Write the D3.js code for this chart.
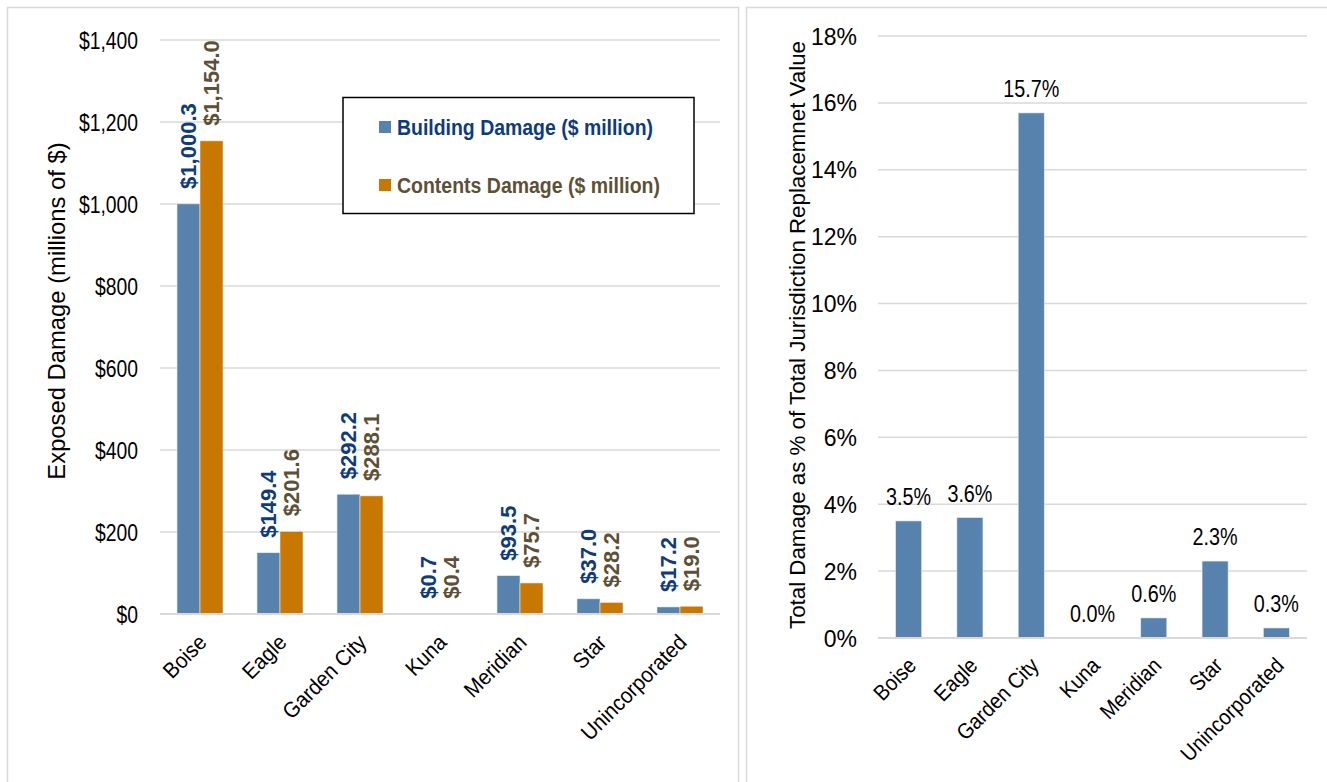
<!DOCTYPE html>
<html>
<head>
<meta charset="utf-8">
<script src="https://cdn.jsdelivr.net/npm/d3@7"></script>
<style>
  html, body { margin: 0; padding: 0; background: #fff; }
  svg { display: block; }
  text { font-family: "Liberation Sans", Arial, sans-serif; }
</style>
</head>
<body>
<svg id="chart" width="1327" height="782"></svg>
<script>
// Jurisdictions shared by both panels
const jurisdictions = ["Boise", "Eagle", "Garden City", "Kuna", "Meridian", "Star", "Unincorporated"];

// Left panel: exposed damage, $ million
const buildingDamage = [1000.3, 149.4, 292.2, 0.7, 93.5, 37.0, 17.2];
const contentsDamage = [1154.0, 201.6, 288.1, 0.4, 75.7, 28.2, 19.0];
const damageTicks = [0, 200, 400, 600, 800, 1000, 1200, 1400];

// Right panel: total damage as % of replacement value
const pctOfValue = [3.5, 3.6, 15.7, 0.0, 0.6, 2.3, 0.3];
const pctTicks = [0, 2, 4, 6, 8, 10, 12, 14, 16, 18];

const seriesNames = ["Building Damage ($ million)", "Contents Damage ($ million)"];

const BLUE = "#5682ad", ORANGE = "#c87800";
const BLUE_TEXT = "#0e3b7c", BROWN_TEXT = "#5e5035";
const GRID = "#d9d9d9";

// Narrow lettering: squeeze each text along its baseline
function condense(sel, k) {
  sel.each(function () {
    const len = this.getComputedTextLength();
    d3.select(this).attr("textLength", len * k).attr("lengthAdjust", "spacingAndGlyphs");
  });
}
function fitLength(sel, len) {
  sel.attr("textLength", len).attr("lengthAdjust", "spacingAndGlyphs");
}

const svg = d3.select("#chart");

// Panel frames
svg.append("rect").attr("x", 7.5).attr("y", 7.5).attr("width", 731).attr("height", 800)
  .attr("fill", "none").attr("stroke", GRID).attr("stroke-width", 1.5);
svg.append("rect").attr("x", 746.5).attr("y", 7.5).attr("width", 620).attr("height", 800)
  .attr("fill", "none").attr("stroke", GRID).attr("stroke-width", 1.5);

// ---------- Left panel ----------
{
  const x0 = d3.scaleBand().domain(jurisdictions).range([160, 720]).paddingInner(0.425).paddingOuter(0.2125);
  const y = d3.scaleLinear().domain([0, 1400]).range([614, 40]);
  const bw = x0.bandwidth() / 2;

  const g = svg.append("g");

  // gridlines
  g.append("g").selectAll("line").data(damageTicks).join("line")
    .attr("x1", 160).attr("x2", 720)
    .attr("y1", d => y(d)).attr("y2", d => y(d))
    .attr("stroke", GRID).attr("stroke-width", 1.5);

  // y axis labels
  const yAxis = d3.axisLeft(y).tickValues(damageTicks).tickSize(0).tickPadding(0)
    .tickFormat(d => "$" + d3.format(",")(d));
  const ya = g.append("g").attr("transform", "translate(138,0)").call(yAxis);
  ya.select(".domain").remove();
  ya.selectAll("text").attr("font-size", 23).attr("fill", "#000")
    .style("font-family", null).attr("dy", "0.35em").call(condense, 0.84);

  const series = [
    {values: buildingDamage, color: BLUE, text: BLUE_TEXT, off: 0},
    {values: contentsDamage, color: ORANGE, text: BROWN_TEXT, off: 1}
  ];

  series.forEach(s => {
    g.append("g").selectAll("rect").data(jurisdictions).join("rect")
      .attr("x", (d) => x0(d) + s.off * bw)
      .attr("y", (d, i) => y(s.values[i]))
      .attr("width", bw)
      .attr("height", (d, i) => y(0) - y(s.values[i]))
      .attr("fill", s.color)
      .attr("stroke", "#eaeaea").attr("stroke-width", 0.6);

    g.append("g").selectAll("text").data(jurisdictions).join("text")
      .attr("transform", (d, i) => {
        const cx = x0(d) + s.off * bw + bw / 2;
        const cy = y(s.values[i]) - 15;
        return `translate(${cx},${cy}) rotate(-90)`;
      })
      .attr("dy", "0.36em")
      .attr("text-anchor", "start")
      .attr("font-size", 22).attr("font-weight", "bold")
      .attr("fill", s.text)
      .text((d, i) => "$" + d3.format(",.1f")(s.values[i]));
  });

  // baseline
  g.append("line").attr("x1", 160).attr("x2", 720).attr("y1", y(0)).attr("y2", y(0))
    .attr("stroke", GRID).attr("stroke-width", 2);

  // x axis labels
  const xAxis = d3.axisBottom(x0).tickSize(0).tickPadding(0);
  const xa = g.append("g").attr("transform", `translate(0,${y(0)})`).call(xAxis);
  xa.select(".domain").remove();
  xa.selectAll("text")
    .style("font-family", null)
    .attr("font-size", 22).attr("fill", "#000")
    .attr("text-anchor", "end")
    .attr("transform", "translate(-3,19) rotate(-45)")
    .attr("dy", "0.7em").attr("y", 0)
    .call(condense, 0.92);

  // y axis title
  g.append("text")
    .attr("transform", "translate(57,311) rotate(-90)")
    .attr("text-anchor", "middle").attr("dy", "0.35em")
    .attr("font-size", 23.8).attr("fill", "#000")
    .text("Exposed Damage (millions of $)");

  // legend
  const lg = g.append("g");
  lg.append("rect").attr("x", 343).attr("y", 97.5).attr("width", 351).attr("height", 116)
    .attr("fill", "#fff").attr("stroke", "#000").attr("stroke-width", 1.5);
  const legendItems = [
    {name: seriesNames[0], color: BLUE, text: BLUE_TEXT, cy: 127, len: 256},
    {name: seriesNames[1], color: ORANGE, text: BROWN_TEXT, cy: 185, len: 263}
  ];
  legendItems.forEach(it => {
    lg.append("rect").attr("x", 379).attr("y", it.cy - 6).attr("width", 12).attr("height", 12).attr("fill", it.color);
    lg.append("text").attr("x", 397).attr("y", it.cy).attr("dy", "0.36em")
      .attr("font-size", 22).attr("font-weight", "bold").attr("fill", it.text).text(it.name)
      .call(fitLength, it.len);
  });
}

// ---------- Right panel ----------
{
  const x = d3.scaleBand().domain(jurisdictions).range([878, 1307]).paddingInner(0.575).paddingOuter(0.2875);
  const y = d3.scaleLinear().domain([0, 18]).range([638, 36]);

  const g = svg.append("g");

  g.append("g").selectAll("line").data(pctTicks).join("line")
    .attr("x1", 878).attr("x2", 1307)
    .attr("y1", d => y(d)).attr("y2", d => y(d))
    .attr("stroke", GRID).attr("stroke-width", 1.5);

  const yAxis = d3.axisLeft(y).tickValues(pctTicks).tickSize(0).tickPadding(0)
    .tickFormat(d => d + "%");
  const ya = g.append("g").attr("transform", "translate(857,0)").call(yAxis);
  ya.select(".domain").remove();
  ya.selectAll("text").attr("font-size", 23).attr("fill", "#000")
    .style("font-family", null).attr("dy", "0.35em");

  g.append("g").selectAll("rect").data(jurisdictions).join("rect")
    .attr("x", d => x(d))
    .attr("y", (d, i) => y(pctOfValue[i]))
    .attr("width", x.bandwidth())
    .attr("height", (d, i) => y(0) - y(pctOfValue[i]))
    .attr("fill", BLUE)
    .attr("stroke", "#eaeaea").attr("stroke-width", 0.6);

  g.append("g").selectAll("text").data(jurisdictions).join("text")
    .attr("x", d => x(d) + x.bandwidth() / 2)
    .attr("y", (d, i) => y(pctOfValue[i]) - 16)
    .attr("text-anchor", "middle")
    .attr("font-size", 23).attr("fill", "#000")
    .text((d, i) => d3.format(".1f")(pctOfValue[i]) + "%")
    .call(condense, 0.86);

  g.append("line").attr("x1", 878).attr("x2", 1307).attr("y1", y(0)).attr("y2", y(0))
    .attr("stroke", GRID).attr("stroke-width", 2);

  const xAxis = d3.axisBottom(x).tickSize(0).tickPadding(0);
  const xa = g.append("g").attr("transform", `translate(0,${y(0)})`).call(xAxis);
  xa.select(".domain").remove();
  xa.selectAll("text")
    .style("font-family", null)
    .attr("font-size", 22).attr("fill", "#000")
    .attr("text-anchor", "end")
    .attr("transform", "translate(-2,18) rotate(-45)")
    .attr("dy", "0.7em").attr("y", 0)
    .call(condense, 0.9);

  g.append("text")
    .attr("transform", "translate(797,335) rotate(-90)")
    .attr("text-anchor", "middle").attr("dy", "0.35em")
    .attr("font-size", 22.3).attr("fill", "#000")
    .text("Total Damage as % of Total Jurisdiction Replacemnet Value");
}
</script>
</body>
</html>
